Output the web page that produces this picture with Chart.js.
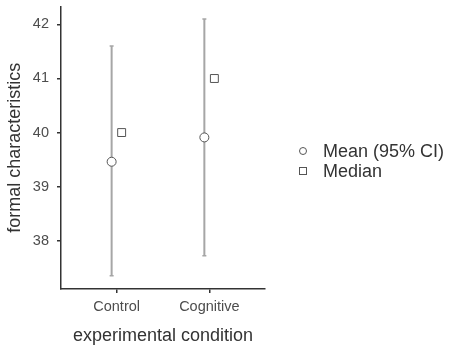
<!DOCTYPE html>
<html lang="en">
<head>
  <meta charset="UTF-8">
  <title>formal characteristics</title>
  <script src="https://cdn.jsdelivr.net/npm/chart.js"></script>
  <style>
    body {
      margin: 0;
      background: #fff;
      font-family: "Liberation Sans", Arial, sans-serif;
    }
    #wrap {
      position: relative;
      width: 449px;
      height: 347px;
    }
    .legend {
      position: absolute;
      left: 297px;
      top: 141px;
      color: #333;
      font-size: 18px;
      line-height: 20px;
    }
    .legend div {
      display: flex;
      align-items: center;
    }
    .sym {
      display: inline-block;
      width: 6px;
      height: 6px;
      border: 1px solid #555;
      margin: 0 16px 0 2px;
    }
    .sym.circle {
      border-radius: 50%;
    }
  </style>
</head>
<body>
  <div id="wrap">
    <canvas id="chart" width="449" height="347"></canvas>
    <div class="legend">
      <div><span class="sym circle"></span>Mean (95% CI)</div>
      <div><span class="sym"></span>Median</div>
    </div>
  </div>

  <script>
    const categories = ['Control', 'Cognitive'];
    const meanValues = [39.46, 39.91];
    const ciLower = [37.35, 37.72];
    const ciUpper = [41.6, 42.1];
    const medianValues = [40, 41];
    const yTicks = [38, 39, 40, 41, 42];

    // mean and median are dodged a little either side of the category
    const dodge = 0.054;

    const errorSets = categories.map(function(c, i) {
      return {
        label: c + ' CI',
        data: [{ x: i + 1 - dodge, y: ciLower[i] }, { x: i + 1 - dodge, y: ciUpper[i] }],
        showLine: true,
        borderColor: '#a6a6a6',
        borderWidth: 2,
        pointStyle: 'line',
        pointRadius: 2,
        pointBorderWidth: 1.5,
        pointBorderColor: '#a6a6a6',
        order: 2
      };
    });

    const meanSet = {
      label: 'Mean (95% CI)',
      data: meanValues.map(function(v, i) { return { x: i + 1 - dodge, y: v }; }),
      pointStyle: 'circle',
      pointRadius: 4.5,
      pointBorderWidth: 1,
      pointBackgroundColor: '#fff',
      pointBorderColor: '#555',
      order: 0
    };

    const medianSet = {
      label: 'Median',
      data: medianValues.map(function(v, i) { return { x: i + 1 + dodge, y: v }; }),
      pointStyle: 'rect',
      pointRadius: 5.6,
      pointBorderWidth: 1,
      pointBackgroundColor: '#fff',
      pointBorderColor: '#555',
      order: 0
    };

    var ctx = document.getElementById('chart').getContext('2d');
    var chart = new Chart(ctx, {
      type: 'scatter',
      data: {
        datasets: errorSets.concat([meanSet, medianSet])
      },
      options: {
        responsive: false,
        animation: false,
        layout: { padding: { top: 6, right: 184, left: 0, bottom: 0 } },
        plugins: {
          legend: { display: false },
          tooltip: { enabled: false }
        },
        scales: {
          x: {
            type: 'linear',
            min: 0.4,
            max: 2.6,
            afterBuildTicks: function(scale) {
              scale.ticks = categories.map(function(c, i) { return { value: i + 1 }; });
            },
            afterFit: function(scale) {
              scale.height = 58;
              scale.paddingLeft = 0;
              scale.paddingRight = 0;
            },
            ticks: {
              callback: function(v) { return categories[v - 1]; },
              color: '#4d4d4d',
              font: { family: '"Liberation Sans", Arial, sans-serif', size: 14.5 },
              padding: 5,
              maxRotation: 0
            },
            grid: { drawOnChartArea: false, drawTicks: true, tickLength: 4, color: '#333', lineWidth: 1.5 },
            border: { color: '#333', width: 1.5 },
            title: {
              display: true,
              text: 'experimental condition',
              color: '#333',
              font: { family: '"Liberation Sans", Arial, sans-serif', size: 18 },
              padding: { top: 5, bottom: 0 }
            }
          },
          y: {
            min: 37.106,
            max: 42.33,
            afterBuildTicks: function(scale) {
              scale.ticks = yTicks.map(function(v) { return { value: v }; });
            },
            afterFit: function(scale) {
              scale.width = 61;
              scale.paddingTop = 0;
              scale.paddingBottom = 0;
            },
            ticks: {
              color: '#4d4d4d',
              font: { family: '"Liberation Sans", Arial, sans-serif', size: 14.5 },
              padding: 8
            },
            grid: { drawOnChartArea: false, drawTicks: true, tickLength: 4, color: '#333', lineWidth: 1.5 },
            border: { color: '#333', width: 1.5 },
            title: {
              display: true,
              text: 'formal characteristics',
              color: '#333',
              font: { family: '"Liberation Sans", Arial, sans-serif', size: 18 },
              padding: { top: 4, bottom: 0 }
            }
          }
        }
      }
    });
  </script>
</body>
</html>
